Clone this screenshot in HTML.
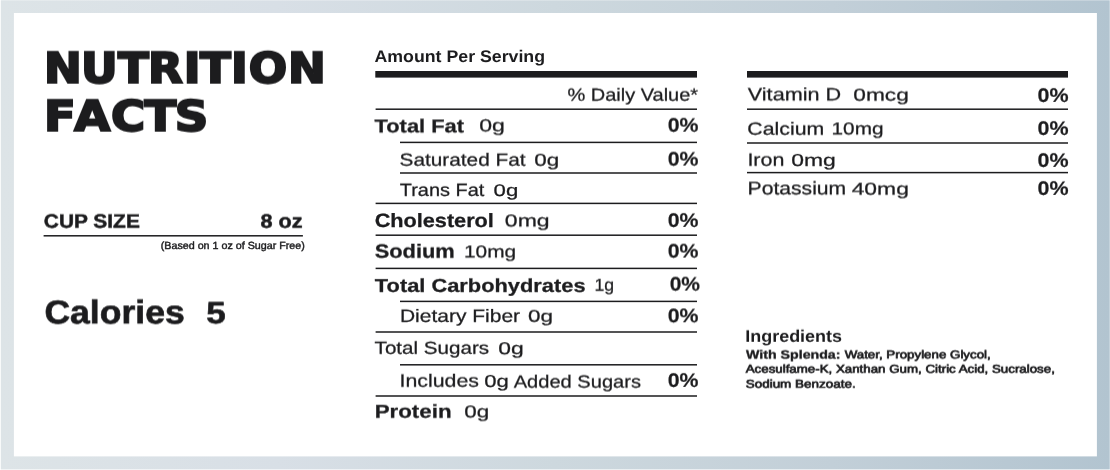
<!DOCTYPE html>
<html lang="en">
<head>
<meta charset="utf-8">
<title>Nutrition Facts</title>
<style>
html,body{margin:0;padding:0;background:#fff;}
body{width:1110px;height:470px;overflow:hidden;font-family:"Liberation Sans",sans-serif;}
svg{display:block;}
text{font-family:"Liberation Sans",sans-serif;fill:#1c1c1e;white-space:pre;text-rendering:geometricPrecision;}
.ln rect{fill:#1c1c1e;}
</style>
</head>
<body>
<svg width="1110" height="470" viewBox="0 0 1110 470">
<defs>
<linearGradient id="bg" x1="0" y1="0" x2="1" y2="0">
<stop offset="0" stop-color="#dde4e7"/>
<stop offset="0.25" stop-color="#d8dfe6"/>
<stop offset="0.5" stop-color="#cdd8de"/>
<stop offset="0.75" stop-color="#c2cfd8"/>
<stop offset="1" stop-color="#b2c4d0"/>
</linearGradient>
<filter id="d1" x="-2%" y="-30%" width="104%" height="160%" color-interpolation-filters="sRGB"><feConvolveMatrix order="1 2" targetX="0" targetY="1" kernelMatrix="0.9 0.1" divisor="1" edgeMode="none" preserveAlpha="false"/></filter>
<filter id="u1" x="-2%" y="-30%" width="104%" height="160%" color-interpolation-filters="sRGB"><feConvolveMatrix order="1 2" targetX="0" targetY="0" kernelMatrix="0.1 0.9" divisor="1" edgeMode="none" preserveAlpha="false"/></filter>
<filter id="d2" x="-2%" y="-30%" width="104%" height="160%" color-interpolation-filters="sRGB"><feConvolveMatrix order="1 2" targetX="0" targetY="1" kernelMatrix="0.8 0.2" divisor="1" edgeMode="none" preserveAlpha="false"/></filter>
<filter id="u2" x="-2%" y="-30%" width="104%" height="160%" color-interpolation-filters="sRGB"><feConvolveMatrix order="1 2" targetX="0" targetY="0" kernelMatrix="0.2 0.8" divisor="1" edgeMode="none" preserveAlpha="false"/></filter>
<filter id="d3" x="-2%" y="-30%" width="104%" height="160%" color-interpolation-filters="sRGB"><feConvolveMatrix order="1 2" targetX="0" targetY="1" kernelMatrix="0.7 0.3" divisor="1" edgeMode="none" preserveAlpha="false"/></filter>
<filter id="u3" x="-2%" y="-30%" width="104%" height="160%" color-interpolation-filters="sRGB"><feConvolveMatrix order="1 2" targetX="0" targetY="0" kernelMatrix="0.3 0.7" divisor="1" edgeMode="none" preserveAlpha="false"/></filter>
<filter id="d4" x="-2%" y="-30%" width="104%" height="160%" color-interpolation-filters="sRGB"><feConvolveMatrix order="1 2" targetX="0" targetY="1" kernelMatrix="0.6 0.4" divisor="1" edgeMode="none" preserveAlpha="false"/></filter>
<filter id="u4" x="-2%" y="-30%" width="104%" height="160%" color-interpolation-filters="sRGB"><feConvolveMatrix order="1 2" targetX="0" targetY="0" kernelMatrix="0.4 0.6" divisor="1" edgeMode="none" preserveAlpha="false"/></filter>
</defs>
<rect x="0" y="0" width="1110" height="470" fill="url(#bg)"/>
<rect x="0" y="0" width="1110" height="1" fill="#ffffff" fill-opacity="0.25"/>
<rect x="0" y="469" width="1110" height="1" fill="#ffffff" fill-opacity="0.6"/>
<rect x="0" y="0" width="1" height="470" fill="#ffffff" fill-opacity="0.8"/>
<rect x="1109" y="0" width="1" height="470" fill="#ffffff" fill-opacity="0.25"/>
<rect x="13.9" y="13" width="1083" height="443.4" fill="#ffffff"/>
<g class="ln">
<rect x="375.3" y="71.00" width="321.70" height="6.6"/>
<rect x="375.6" y="108.45" width="321.40" height="1.5"/>
<rect x="400" y="141.65" width="297.00" height="1.5"/>
<rect x="400" y="172.25" width="297.00" height="1.5"/>
<rect x="375.6" y="202.65" width="321.40" height="1.5"/>
<rect x="375.6" y="234.45" width="321.40" height="1.5"/>
<rect x="375.6" y="267.65" width="321.40" height="1.5"/>
<rect x="400" y="300.65" width="297.00" height="1.5"/>
<rect x="375.6" y="331.25" width="321.40" height="1.5"/>
<rect x="400" y="364.05" width="297.00" height="1.5"/>
<rect x="375.6" y="395.25" width="321.40" height="1.5"/>
<rect x="747" y="71.00" width="321.00" height="6.6"/>
<rect x="747" y="108.45" width="321.00" height="1.5"/>
<rect x="747" y="142.25" width="321.00" height="1.5"/>
<rect x="747" y="171.85" width="321.00" height="1.5"/>
<rect x="43.6" y="235.05" width="259.30" height="1.5"/>
</g>
<g class="tx">
<text transform="translate(0 83) scale(1.0738 1)" x="40.97 75.54 109.85 137.74 171.17 186.22 215.22 231.71 268.30" style="font-family:&quot;DejaVu Sans&quot;,sans-serif" filter="url(#u3)" font-size="42.06" font-weight="700" stroke="#1c1c1e" stroke-width="2.103" stroke-linejoin="miter" paint-order="stroke">NUTRITION</text>
<text transform="translate(0 131) scale(1.1056 1)" x="39.83 67.28 100.31 130.70 157.96" style="font-family:&quot;DejaVu Sans&quot;,sans-serif" filter="url(#u3)" font-size="42.06" font-weight="700" stroke="#1c1c1e" stroke-width="2.103" stroke-linejoin="miter" paint-order="stroke">FACTS</text>
<text transform="translate(43.80 228) scale(1.0755 1)" filter="url(#u3)" font-size="19.44" font-weight="700" stroke="#1c1c1e" stroke-width="0.486" stroke-linejoin="miter" paint-order="stroke">CUP SIZE</text>
<text transform="translate(260.38 228) scale(1.1143 1)" filter="url(#u3)" font-size="19.44" font-weight="700" stroke="#1c1c1e" stroke-width="0.486" stroke-linejoin="miter" paint-order="stroke">8 oz</text>
<text transform="translate(160.75 249) scale(1.0291 1)" font-size="10.41" font-weight="400" stroke="#1c1c1e" stroke-width="0.416" stroke-linejoin="miter" paint-order="stroke">(Based on 1 oz of Sugar Free)</text>
<text transform="translate(44.38 323) scale(1.0791 1)" filter="url(#d4)" font-size="32.96" font-weight="700" stroke="#1c1c1e" stroke-width="0.659" stroke-linejoin="miter" paint-order="stroke">Calories</text>
<text transform="translate(206.18 323) scale(1.1350 1)" filter="url(#d4)" font-size="30.85" font-weight="700" stroke="#1c1c1e" stroke-width="0.617" stroke-linejoin="miter" paint-order="stroke">5</text>
<text transform="translate(374.50 62) scale(1.0562 1)" font-size="16.81" font-weight="700">Amount Per Serving</text>
<text transform="translate(567.43 101) scale(1.1269 1)" filter="url(#u3)" font-size="17.74" font-weight="400" stroke="#1c1c1e" stroke-width="0.266" stroke-linejoin="miter" paint-order="stroke">% Daily Value*</text>
<text transform="translate(374.52 132) scale(1.1685 1)" filter="url(#d4)" font-size="18.73" font-weight="700" stroke="#1c1c1e" stroke-width="0.281" stroke-linejoin="miter" paint-order="stroke">Total Fat</text>
<text transform="translate(479.27 131) scale(1.3264 1)" filter="url(#d4)" font-size="17.40" font-weight="400" stroke="#1c1c1e" stroke-width="0.261" stroke-linejoin="miter" paint-order="stroke">0g</text>
<text transform="translate(667.66 132) scale(1.0881 1)" filter="url(#u3)" font-size="19.60" font-weight="700" stroke="#1c1c1e" stroke-width="0.196" stroke-linejoin="miter" paint-order="stroke">0%</text>
<text transform="translate(399.60 166) scale(1.1814 1)" filter="url(#u3)" font-size="17.60" font-weight="400" stroke="#1c1c1e" stroke-width="0.264" stroke-linejoin="miter" paint-order="stroke">Saturated Fat</text>
<text transform="translate(534.29 166) scale(1.3135 1)" filter="url(#u3)" font-size="17.13" font-weight="400" stroke="#1c1c1e" stroke-width="0.257" stroke-linejoin="miter" paint-order="stroke">0g</text>
<text transform="translate(667.66 166) scale(1.0881 1)" filter="url(#u4)" font-size="19.60" font-weight="700" stroke="#1c1c1e" stroke-width="0.196" stroke-linejoin="miter" paint-order="stroke">0%</text>
<text transform="translate(399.80 196) scale(1.1240 1)" filter="url(#u1)" font-size="17.74" font-weight="400" stroke="#1c1c1e" stroke-width="0.266" stroke-linejoin="miter" paint-order="stroke">Trans Fat</text>
<text transform="translate(493.60 196) scale(1.3176 1)" font-size="16.85" font-weight="400" stroke="#1c1c1e" stroke-width="0.253" stroke-linejoin="miter" paint-order="stroke">0g</text>
<text transform="translate(374.66 227) scale(1.1239 1)" font-size="19.30" font-weight="700" stroke="#1c1c1e" stroke-width="0.289" stroke-linejoin="miter" paint-order="stroke">Cholesterol</text>
<text transform="translate(504.87 226) scale(1.3454 1)" filter="url(#d4)" font-size="17.13" font-weight="400" stroke="#1c1c1e" stroke-width="0.257" stroke-linejoin="miter" paint-order="stroke">0mg</text>
<text transform="translate(667.66 227) scale(1.0881 1)" filter="url(#u1)" font-size="19.60" font-weight="700" stroke="#1c1c1e" stroke-width="0.196" stroke-linejoin="miter" paint-order="stroke">0%</text>
<text transform="translate(374.71 258) scale(1.1316 1)" filter="url(#u3)" font-size="19.30" font-weight="700" stroke="#1c1c1e" stroke-width="0.289" stroke-linejoin="miter" paint-order="stroke">Sodium</text>
<text transform="translate(463.96 257) scale(1.2192 1)" filter="url(#d4)" font-size="17.13" font-weight="400" stroke="#1c1c1e" stroke-width="0.257" stroke-linejoin="miter" paint-order="stroke">10mg</text>
<text transform="translate(667.66 258) scale(1.0881 1)" filter="url(#u4)" font-size="19.60" font-weight="700" stroke="#1c1c1e" stroke-width="0.196" stroke-linejoin="miter" paint-order="stroke">0%</text>
<text transform="translate(374.82 292) scale(1.1667 1)" filter="url(#u1)" font-size="18.73" font-weight="700" stroke="#1c1c1e" stroke-width="0.281" stroke-linejoin="miter" paint-order="stroke">Total Carbohydrates</text>
<text transform="translate(594.39 291) scale(1.0228 1)" filter="url(#u3)" font-size="17.27" font-weight="400" stroke="#1c1c1e" stroke-width="0.259" stroke-linejoin="miter" paint-order="stroke">1g</text>
<text transform="translate(669.67 291) scale(1.0734 1)" filter="url(#u4)" font-size="19.60" font-weight="700" stroke="#1c1c1e" stroke-width="0.196" stroke-linejoin="miter" paint-order="stroke">0%</text>
<text transform="translate(399.93 322) scale(1.1752 1)" filter="url(#u1)" font-size="17.88" font-weight="400" stroke="#1c1c1e" stroke-width="0.268" stroke-linejoin="miter" paint-order="stroke">Dietary Fiber</text>
<text transform="translate(527.89 322) scale(1.3461 1)" filter="url(#u3)" font-size="16.71" font-weight="400" stroke="#1c1c1e" stroke-width="0.251" stroke-linejoin="miter" paint-order="stroke">0g</text>
<text transform="translate(667.66 322) scale(1.0881 1)" filter="url(#d3)" font-size="19.60" font-weight="700" stroke="#1c1c1e" stroke-width="0.196" stroke-linejoin="miter" paint-order="stroke">0%</text>
<text transform="translate(374.59 354) scale(1.1815 1)" filter="url(#u2)" font-size="17.46" font-weight="400" stroke="#1c1c1e" stroke-width="0.262" stroke-linejoin="miter" paint-order="stroke">Total Sugars</text>
<text transform="translate(498.27 354) scale(1.3364 1)" filter="url(#d2)" font-size="17.13" font-weight="400" stroke="#1c1c1e" stroke-width="0.257" stroke-linejoin="miter" paint-order="stroke">0g</text>
<text transform="translate(399.49 387) scale(1.1941 1)" filter="url(#u3)" font-size="17.88" font-weight="400" stroke="#1c1c1e" stroke-width="0.268" stroke-linejoin="miter" paint-order="stroke">Includes</text>
<text transform="translate(484.30 387) scale(1.2907 1)" filter="url(#u1)" font-size="17.13" font-weight="400" stroke="#1c1c1e" stroke-width="0.257" stroke-linejoin="miter" paint-order="stroke">0g</text>
<text transform="translate(513.71 388) scale(1.1412 1)" filter="url(#u4)" font-size="17.60" font-weight="400" stroke="#1c1c1e" stroke-width="0.264" stroke-linejoin="miter" paint-order="stroke">Added Sugars</text>
<text transform="translate(667.66 387) scale(1.0881 1)" filter="url(#u1)" font-size="19.60" font-weight="700" stroke="#1c1c1e" stroke-width="0.196" stroke-linejoin="miter" paint-order="stroke">0%</text>
<text transform="translate(374.67 418) scale(1.1920 1)" filter="url(#u3)" font-size="18.73" font-weight="700" stroke="#1c1c1e" stroke-width="0.281" stroke-linejoin="miter" paint-order="stroke">Protein</text>
<text transform="translate(464.29 417) scale(1.3135 1)" filter="url(#d4)" font-size="17.13" font-weight="400" stroke="#1c1c1e" stroke-width="0.257" stroke-linejoin="miter" paint-order="stroke">0g</text>
<text transform="translate(747.78 100) scale(1.2112 1)" filter="url(#d4)" font-size="17.88" font-weight="400" stroke="#1c1c1e" stroke-width="0.268" stroke-linejoin="miter" paint-order="stroke">Vitamin D</text>
<text transform="translate(853.28 101) scale(1.3275 1)" filter="url(#u4)" font-size="17.13" font-weight="400" stroke="#1c1c1e" stroke-width="0.257" stroke-linejoin="miter" paint-order="stroke">0mcg</text>
<text transform="translate(1037.46 102) scale(1.0954 1)" filter="url(#u1)" font-size="19.60" font-weight="700" stroke="#1c1c1e" stroke-width="0.196" stroke-linejoin="miter" paint-order="stroke">0%</text>
<text transform="translate(747.37 135) scale(1.2091 1)" filter="url(#u3)" font-size="17.60" font-weight="400" stroke="#1c1c1e" stroke-width="0.264" stroke-linejoin="miter" paint-order="stroke">Calcium</text>
<text transform="translate(831.57 134) scale(1.2142 1)" filter="url(#d4)" font-size="17.13" font-weight="400" stroke="#1c1c1e" stroke-width="0.257" stroke-linejoin="miter" paint-order="stroke">10mg</text>
<text transform="translate(1037.46 135) scale(1.0954 1)" filter="url(#u1)" font-size="19.60" font-weight="700" stroke="#1c1c1e" stroke-width="0.196" stroke-linejoin="miter" paint-order="stroke">0%</text>
<text transform="translate(747.38 166) scale(1.2086 1)" filter="url(#u3)" font-size="17.74" font-weight="400" stroke="#1c1c1e" stroke-width="0.266" stroke-linejoin="miter" paint-order="stroke">Iron</text>
<text transform="translate(791.27 166) scale(1.3391 1)" filter="url(#u1)" font-size="17.13" font-weight="400" stroke="#1c1c1e" stroke-width="0.257" stroke-linejoin="miter" paint-order="stroke">0mg</text>
<text transform="translate(1037.46 167) scale(1.0954 1)" filter="url(#u1)" font-size="19.60" font-weight="700" stroke="#1c1c1e" stroke-width="0.196" stroke-linejoin="miter" paint-order="stroke">0%</text>
<text transform="translate(747.62 194) scale(1.1630 1)" filter="url(#d4)" font-size="18.16" font-weight="400" stroke="#1c1c1e" stroke-width="0.272" stroke-linejoin="miter" paint-order="stroke">Potassium</text>
<text transform="translate(851.64 195) scale(1.3367 1)" filter="url(#u4)" font-size="17.13" font-weight="400" stroke="#1c1c1e" stroke-width="0.257" stroke-linejoin="miter" paint-order="stroke">40mg</text>
<text transform="translate(1037.46 195) scale(1.0954 1)" filter="url(#u1)" font-size="19.60" font-weight="700" stroke="#1c1c1e" stroke-width="0.196" stroke-linejoin="miter" paint-order="stroke">0%</text>
<text transform="translate(745.30 342) scale(1.0679 1)" filter="url(#u2)" font-size="16.81" font-weight="700">Ingredients</text>
<text transform="translate(746.02 359) scale(1.1884 1)" filter="url(#u4)" font-size="11.95" font-weight="700" stroke="#1c1c1e" stroke-width="0.358" stroke-linejoin="miter" paint-order="stroke">With Splenda:</text>
<text transform="translate(844.66 358) scale(1.1757 1)" filter="url(#d4)" font-size="11.33" font-weight="400" stroke="#1c1c1e" stroke-width="0.680" stroke-linejoin="miter" paint-order="stroke">Water, Propylene Glycol,</text>
<text transform="translate(745.74 373) scale(1.1745 1)" filter="url(#u3)" font-size="11.33" font-weight="400" stroke="#1c1c1e" stroke-width="0.680" stroke-linejoin="miter" paint-order="stroke">Acesulfame-K, Xanthan Gum, Citric Acid, Sucralose,</text>
<text transform="translate(745.66 388) scale(1.1894 1)" filter="url(#u3)" font-size="11.33" font-weight="400" stroke="#1c1c1e" stroke-width="0.680" stroke-linejoin="miter" paint-order="stroke">Sodium Benzoate.</text>
</g>
</svg>
</body>
</html>
